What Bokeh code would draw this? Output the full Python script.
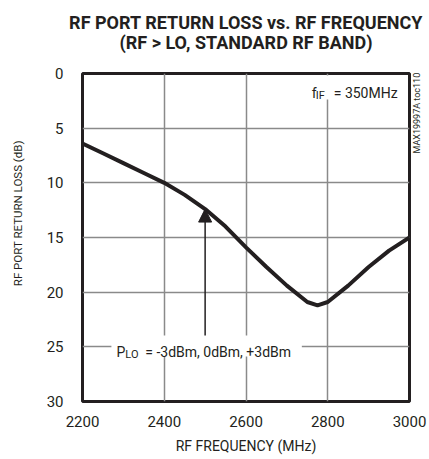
import math
from bokeh.plotting import figure
from bokeh.models import Range1d, Label, Arrow, NormalHead, BoxAnnotation, Title, LinearAxis, FixedTicker
from bokeh.embed import file_html
from bokeh.resources import INLINE

# ---- data ----
freq_mhz = [2200, 2250, 2300, 2350, 2400, 2450, 2500, 2550, 2600, 2650,
            2700, 2750, 2775, 2800, 2850, 2900, 2950, 3000]
return_loss_db = [6.4, 7.3, 8.2, 9.1, 10.0, 11.1, 12.4, 14.0, 15.9, 17.7,
                  19.4, 20.9, 21.2, 20.9, 19.4, 17.7, 16.2, 15.0]
x_ticks = [2200, 2400, 2600, 2800, 3000]
y_ticks = [0, 5, 10, 15, 20, 25, 30]
title_lines = ["RF PORT RETURN LOSS vs. RF FREQUENCY", "(RF > LO, STANDARD RF BAND)"]
x_label = "RF FREQUENCY (MHz)"
y_label = "RF PORT RETURN LOSS (dB)"
side_code = "MAX19997A toc110"
arrow_freq = 2500
arrow_db = 12.4

# ---- layout (page pixels) ----
W, H = 429, 459
L, R, T, B = 82, 19, 73, 58
FW = W - L - R
FH = H - T - B
X0, X1 = 2200, 3000
Y0, Y1 = 0, 30

def cx(px):
    return X0 + (px - L) * (X1 - X0) / FW

def cy(py):
    return Y0 + (py - T) * (Y1 - Y0) / FH

FONT = "Roboto"
INK = "#231f20"

p = figure(width=W, height=H, x_range=Range1d(X0, X1), y_range=Range1d(Y1, Y0),
           output_backend="svg", toolbar_location=None, title=None,
           min_border_left=L, min_border_right=R, min_border_top=T, min_border_bottom=B)
p.outline_line_color = INK
p.outline_line_width = 3
p.outline_line_alpha = 1

# titles (first added sits nearest the frame); a blank spacer keeps the gap
p.add_layout(Title(text="\u00a0", text_font_size="1px", standoff=20), "above")
p.add_layout(Title(text=title_lines[1], align="center", text_font=FONT, text_font_size="18px",
                   text_font_style="bold", text_color=INK, standoff=-5), "above")
p.add_layout(Title(text=title_lines[0], align="center", text_font=FONT, text_font_size="18px",
                   text_font_style="bold", text_color=INK, standoff=0), "above")

for ax in (p.xaxis[0], p.yaxis[0]):
    ax.axis_line_color = None
    ax.major_tick_line_color = None
    ax.minor_tick_line_color = None
    ax.major_tick_out = 0
    ax.major_tick_in = 0
    ax.minor_tick_out = 0
    ax.minor_tick_in = 0
    ax.major_label_text_font = FONT
    ax.major_label_text_font_size = "15px"
    ax.major_label_text_color = INK
    ax.axis_label_text_font = FONT
    ax.axis_label_text_font_style = "normal"
    ax.axis_label_text_color = INK
p.xaxis.ticker = x_ticks
p.yaxis.ticker = y_ticks
p.xaxis.major_label_standoff = 14
p.yaxis.major_label_standoff = 19
p.xaxis.axis_label = x_label
p.xaxis.axis_label_text_font_size = "14px"
p.xaxis.axis_label_standoff = 8
p.yaxis.axis_label = "\u00a0" * 17 + y_label
p.yaxis.axis_label_text_font_size = "11.5px"
p.yaxis.axis_label_standoff = 19

# side code as a right-hand axis label (text starts at the tick and runs upward)
side_pos = cy(153)
rax = LinearAxis(ticker=FixedTicker(ticks=[side_pos]), major_label_overrides={side_pos: side_code},
                 major_label_orientation=math.pi / 2, major_label_standoff=7,
                 axis_line_color=None, major_tick_line_color=None, minor_tick_line_color=None,
                 major_tick_out=0, major_tick_in=0, minor_tick_out=0, minor_tick_in=0,
                 major_label_text_font=FONT, major_label_text_font_size="9px",
                 major_label_text_color=INK)
p.add_layout(rax, "right")

p.xgrid.ticker = x_ticks
p.ygrid.ticker = y_ticks
for g in (p.xgrid[0], p.ygrid[0]):
    g.grid_line_color = "#8a8a8a"
    g.grid_line_width = 1.5

p.line(freq_mhz, return_loss_db, line_color=INK, line_width=4, line_join="round")

# white masks behind in-plot annotations
p.add_layout(BoxAnnotation(left=cx(111), right=cx(302), top=cy(335), bottom=cy(356),
                           fill_color="white", fill_alpha=1, line_color=None, level="glyph"))
p.add_layout(BoxAnnotation(left=cx(308), right=cx(402), top=cy(75), bottom=cy(99),
                           fill_color="white", fill_alpha=1, line_color=None, level="glyph"))

p.add_layout(Arrow(end=NormalHead(size=13, fill_color=INK, line_color=INK, line_width=1),
                   x_start=arrow_freq, y_start=cy(335), x_end=arrow_freq, y_end=arrow_db,
                   line_color=INK, line_width=1.5))

def lab(x, y, text, size, align="left"):
    p.add_layout(Label(x=x, y=y, text=text, text_font=FONT, text_font_size=size,
                       text_align=align, text_baseline="alphabetic", text_color=INK))

# P_LO annotation
lab(cx(116), cy(351), "P", "14px")
lab(cx(125), cy(354), "LO", "11px")
lab(cx(145), cy(351), "= -3dBm, 0dBm, +3dBm", "14px")

# f_IF annotation
lab(cx(312), cy(92), "f", "14px")
lab(cx(316), cy(95), "IF", "11px")
lab(cx(334), cy(92), "= 350MHz", "14px")

open("out.html", "w").write(file_html(p, INLINE))
